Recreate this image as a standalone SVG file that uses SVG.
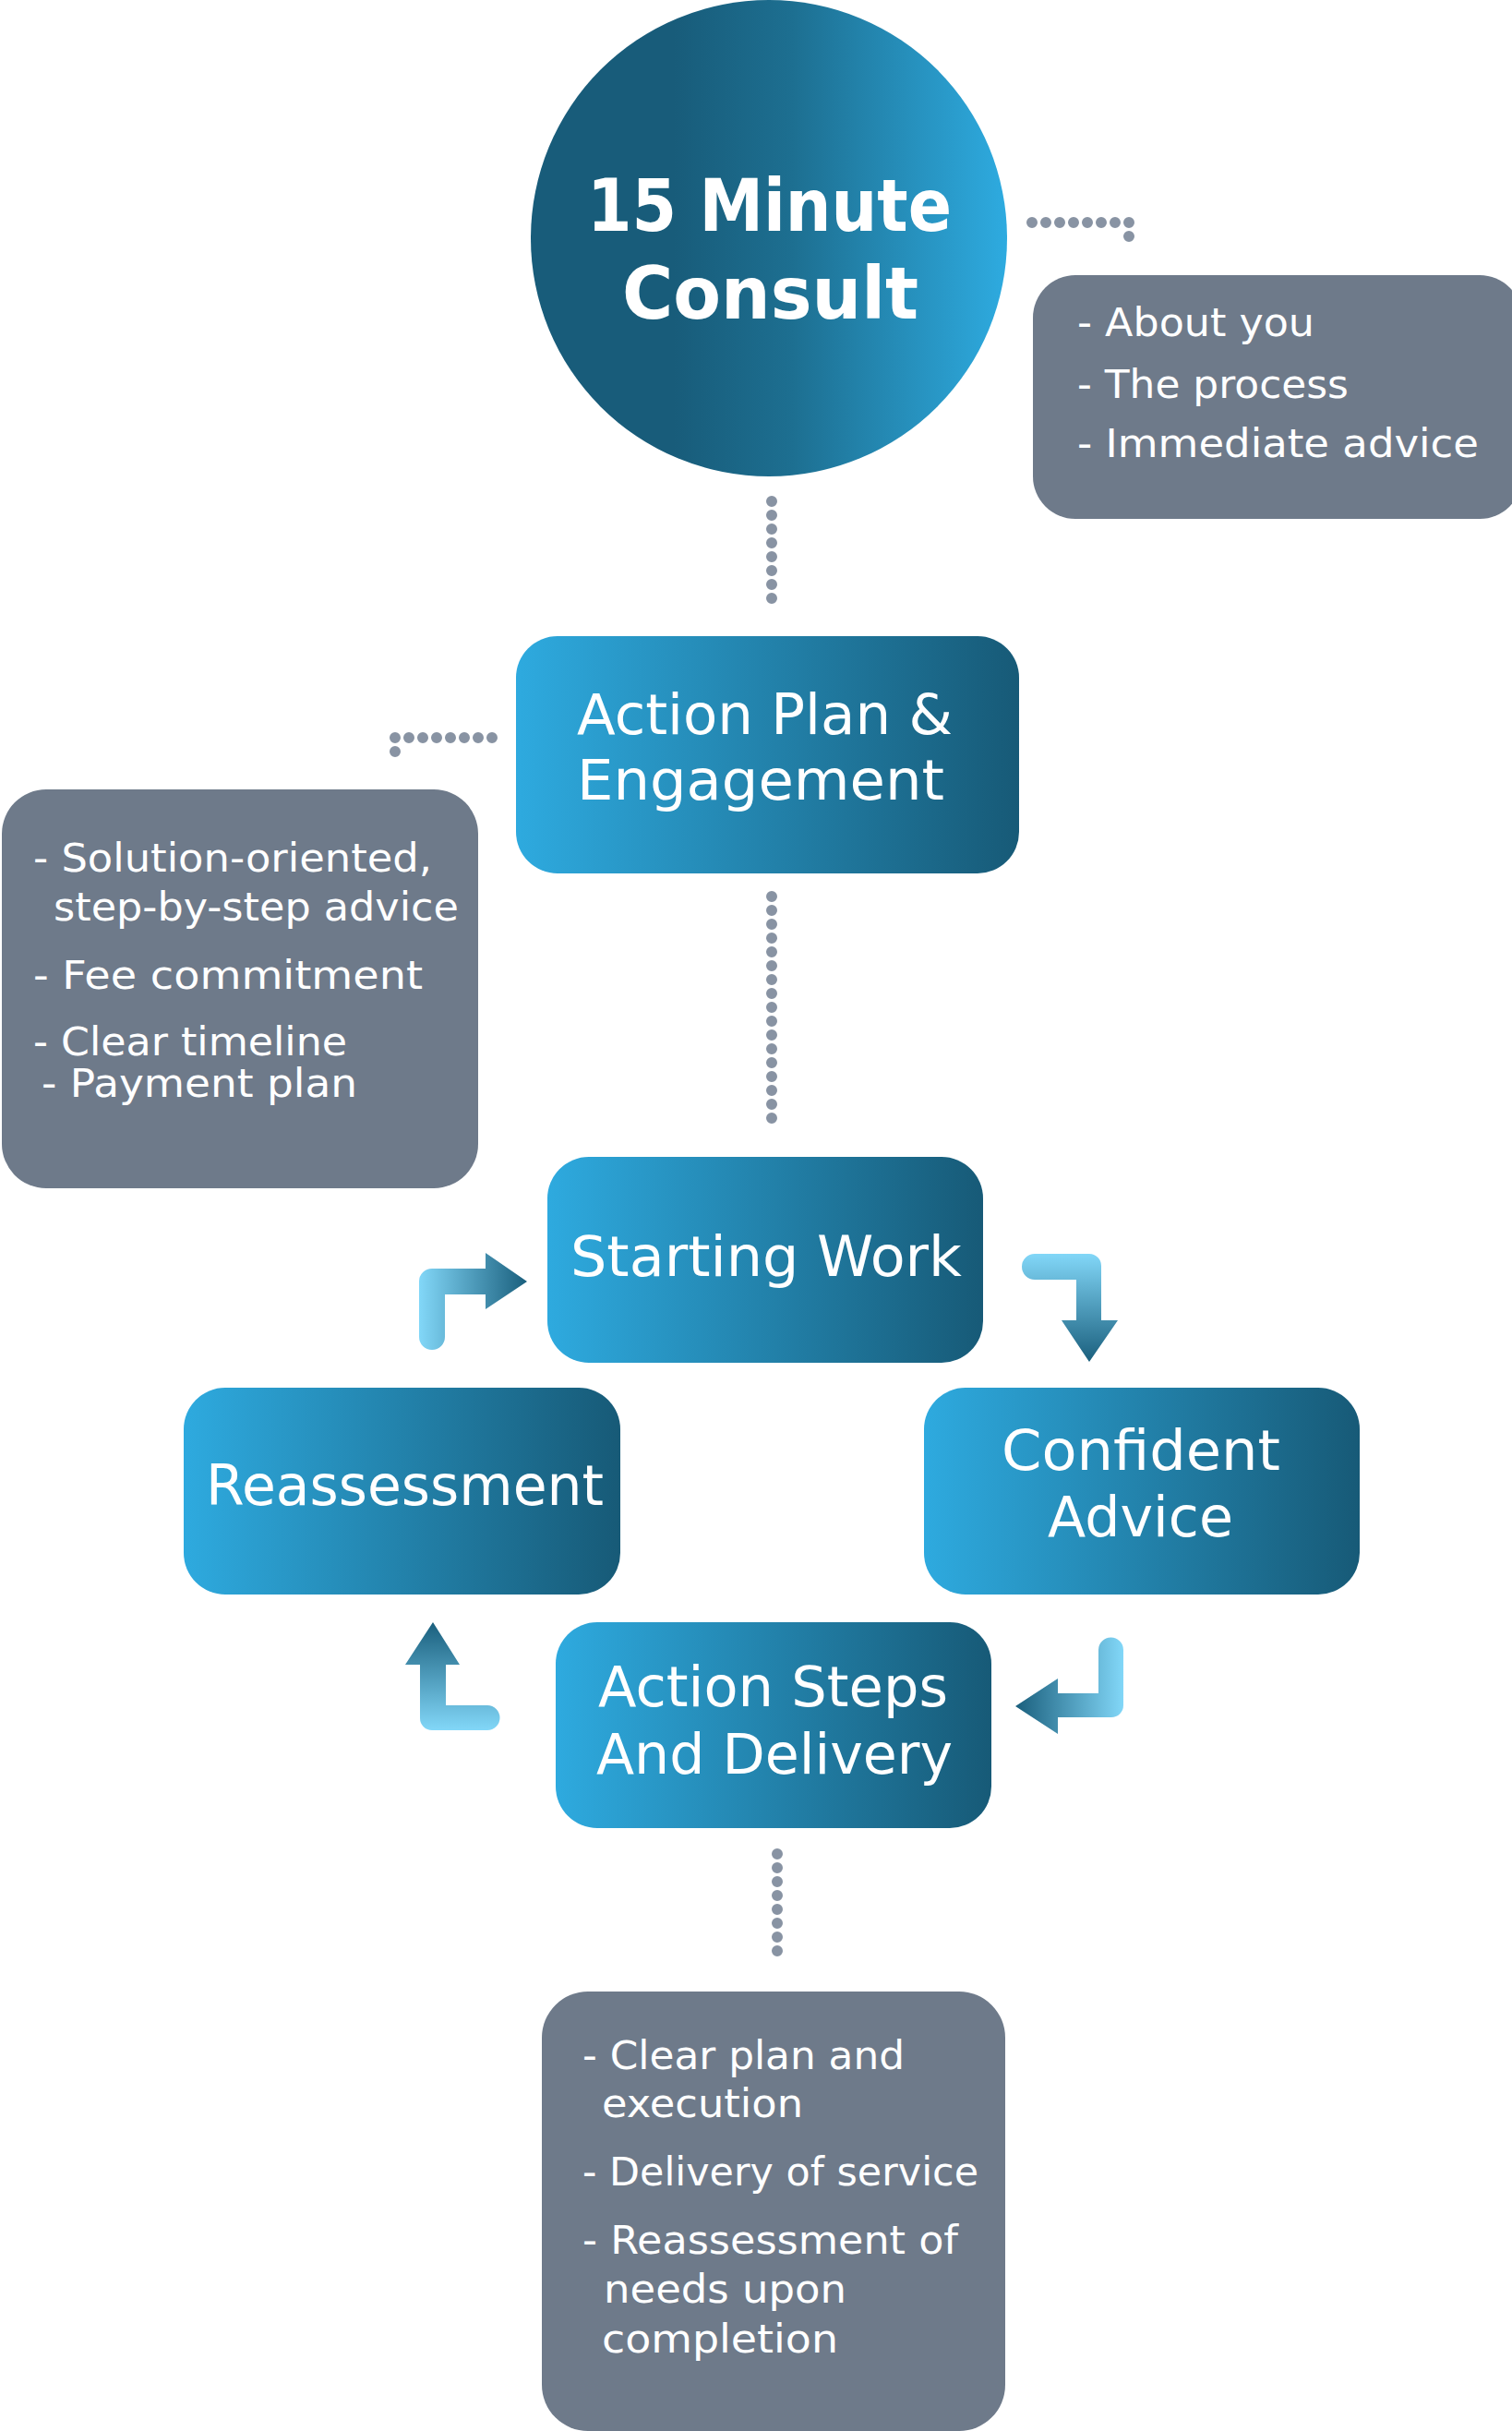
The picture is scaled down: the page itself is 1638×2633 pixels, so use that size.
<svg xmlns="http://www.w3.org/2000/svg" width="1638" height="2633" viewBox="0 0 1638 2633">
<defs>
<linearGradient id="gNode" x1="0" y1="0" x2="1" y2="0">
<stop offset="0" stop-color="#2eaadf"/>
<stop offset="1" stop-color="#175a77"/>
</linearGradient>
<linearGradient id="gCircle" x1="0" y1="0" x2="1" y2="0">
<stop offset="0.3" stop-color="#185c7a"/>
<stop offset="0.55" stop-color="#1d6f91"/>
<stop offset="1" stop-color="#2eabe0"/>
</linearGradient>
<linearGradient id="gArrowR" x1="0" y1="0" x2="1" y2="0">
<stop offset="0" stop-color="#82d7f8"/>
<stop offset="1" stop-color="#1a5f7d"/>
</linearGradient>
<linearGradient id="gArrowD" x1="0" y1="0" x2="0" y2="1">
<stop offset="0" stop-color="#82d7f8"/>
<stop offset="1" stop-color="#1a5f7d"/>
</linearGradient>
<linearGradient id="gArrowL" x1="1" y1="0" x2="0" y2="0">
<stop offset="0" stop-color="#82d7f8"/>
<stop offset="1" stop-color="#1a5f7d"/>
</linearGradient>
<linearGradient id="gArrowU" x1="0" y1="1" x2="0" y2="0">
<stop offset="0" stop-color="#82d7f8"/>
<stop offset="1" stop-color="#1a5f7d"/>
</linearGradient>
</defs>
<style>
.node{fill:url(#gNode);}
.note{fill:#6e7a8a;}
.lbl{font-family:"DejaVu Sans","Liberation Sans",sans-serif;font-size:60px;fill:#ffffff;}
.title{font-family:"DejaVu Sans","Liberation Sans",sans-serif;font-size:78px;font-weight:bold;fill:#ffffff;}
.txt{font-family:"DejaVu Sans","Liberation Sans",sans-serif;font-size:43px;fill:#ffffff;}
.dots{fill:none;stroke:#8893a3;stroke-width:12;stroke-linecap:round;stroke-dasharray:0 15;}
</style>
<rect width="1638" height="2633" fill="#ffffff"/>

<g id="connectors">
<path class="dots" d="M1118 241 L1223 241 L1223 271"/>
<path class="dots" d="M836 543 L836 663"/>
<path class="dots" d="M533 799 L428 799 L428 829"/>
<path class="dots" d="M836 971 L836 1226"/>
<path class="dots" d="M842 2008 L842 2128"/>
<path id="arrow-reassess-start" fill="url(#gArrowR)" d="M454 1448 L454 1388 A14 14 0 0 1 468 1374 L526 1374 L526 1357 L571 1388 L526 1418 L526 1402 L482 1402 L482 1448 A14 14 0 0 1 454 1448 Z"/>
<path id="arrow-start-confident" fill="url(#gArrowD)" d="M1121 1358 L1180 1358 A13 13 0 0 1 1193 1371 L1193 1430 L1211 1430 L1180 1475 L1150 1430 L1166 1430 L1166 1386 L1121 1386 A14 14 0 0 1 1121 1358 Z"/>
<path id="arrow-confident-action" fill="url(#gArrowL)" d="M1190 1787 A13.5 13.5 0 0 1 1217 1787 L1217 1847 A13 13 0 0 1 1204 1860 L1146 1860 L1146 1878 L1100 1848 L1146 1818 L1146 1834 L1190 1834 Z"/>
<path id="arrow-action-reassess" fill="url(#gArrowU)" d="M455 1861 L455 1803 L439 1803 L469 1757 L498 1803 L483 1803 L483 1847 L528 1847 A13.5 13.5 0 0 1 528 1874 L468 1874 A13 13 0 0 1 455 1861 Z"/>
</g>

<g id="consult">
<circle cx="833" cy="258" r="258" fill="url(#gCircle)"/>
<text class="title" x="636" y="250" textLength="395" lengthAdjust="spacingAndGlyphs">15 Minute</text>
<text class="title" x="674" y="345" textLength="321" lengthAdjust="spacingAndGlyphs">Consult</text>
</g>

<g id="note-consult">
<rect class="note" x="1119" y="298" width="530" height="264" rx="46"/>
<text class="txt" x="1167" y="364" textLength="257" lengthAdjust="spacingAndGlyphs">- About you</text>
<text class="txt" x="1167" y="431" textLength="294" lengthAdjust="spacingAndGlyphs">- The process</text>
<text class="txt" x="1167" y="495" textLength="435" lengthAdjust="spacingAndGlyphs">- Immediate advice</text>
</g>

<g id="action-plan">
<rect class="node" x="559" y="689" width="545" height="257" rx="45"/>
<text class="lbl" x="625" y="795" textLength="407" lengthAdjust="spacingAndGlyphs">Action Plan &amp;</text>
<text class="lbl" x="625" y="866" textLength="398" lengthAdjust="spacingAndGlyphs">Engagement</text>
</g>

<g id="note-action-plan">
<rect class="note" x="2" y="855" width="516" height="432" rx="48"/>
<text class="txt" x="36" y="944" textLength="432" lengthAdjust="spacingAndGlyphs">- Solution-oriented,</text>
<text class="txt" x="58" y="997" textLength="439" lengthAdjust="spacingAndGlyphs">step-by-step advice</text>
<text class="txt" x="36" y="1071" textLength="422" lengthAdjust="spacingAndGlyphs">- Fee commitment</text>
<text class="txt" x="36" y="1143" textLength="340" lengthAdjust="spacingAndGlyphs">- Clear timeline</text>
<text class="txt" x="45" y="1188" textLength="342" lengthAdjust="spacingAndGlyphs">- Payment plan</text>
</g>

<g id="starting-work">
<rect class="node" x="593" y="1253" width="472" height="223" rx="45"/>
<text class="lbl" x="618" y="1382" textLength="424" lengthAdjust="spacingAndGlyphs">Starting Work</text>
</g>

<g id="reassessment">
<rect class="node" x="199" y="1503" width="473" height="224" rx="45"/>
<text class="lbl" x="223" y="1630" textLength="431" lengthAdjust="spacingAndGlyphs">Reassessment</text>
</g>

<g id="confident-advice">
<rect class="node" x="1001" y="1503" width="472" height="224" rx="45"/>
<text class="lbl" x="1085" y="1592" textLength="302" lengthAdjust="spacingAndGlyphs">Confident</text>
<text class="lbl" x="1135" y="1664" textLength="201" lengthAdjust="spacingAndGlyphs">Advice</text>
</g>

<g id="action-steps">
<rect class="node" x="602" y="1757" width="472" height="223" rx="45"/>
<text class="lbl" x="648" y="1848" textLength="379" lengthAdjust="spacingAndGlyphs">Action Steps</text>
<text class="lbl" x="646" y="1921" textLength="386" lengthAdjust="spacingAndGlyphs">And Delivery</text>
</g>

<g id="note-action-steps">
<rect class="note" x="587" y="2157" width="502" height="476" rx="50"/>
<text class="txt" x="631" y="2241" textLength="349" lengthAdjust="spacingAndGlyphs">- Clear plan and</text>
<text class="txt" x="652" y="2293" textLength="218" lengthAdjust="spacingAndGlyphs">execution</text>
<text class="txt" x="631" y="2367" textLength="429" lengthAdjust="spacingAndGlyphs">- Delivery of service</text>
<text class="txt" x="631" y="2441" textLength="407" lengthAdjust="spacingAndGlyphs">- Reassessment of</text>
<text class="txt" x="654" y="2494" textLength="263" lengthAdjust="spacingAndGlyphs">needs upon</text>
<text class="txt" x="652" y="2548" textLength="256" lengthAdjust="spacingAndGlyphs">completion</text>
</g>
</svg>
